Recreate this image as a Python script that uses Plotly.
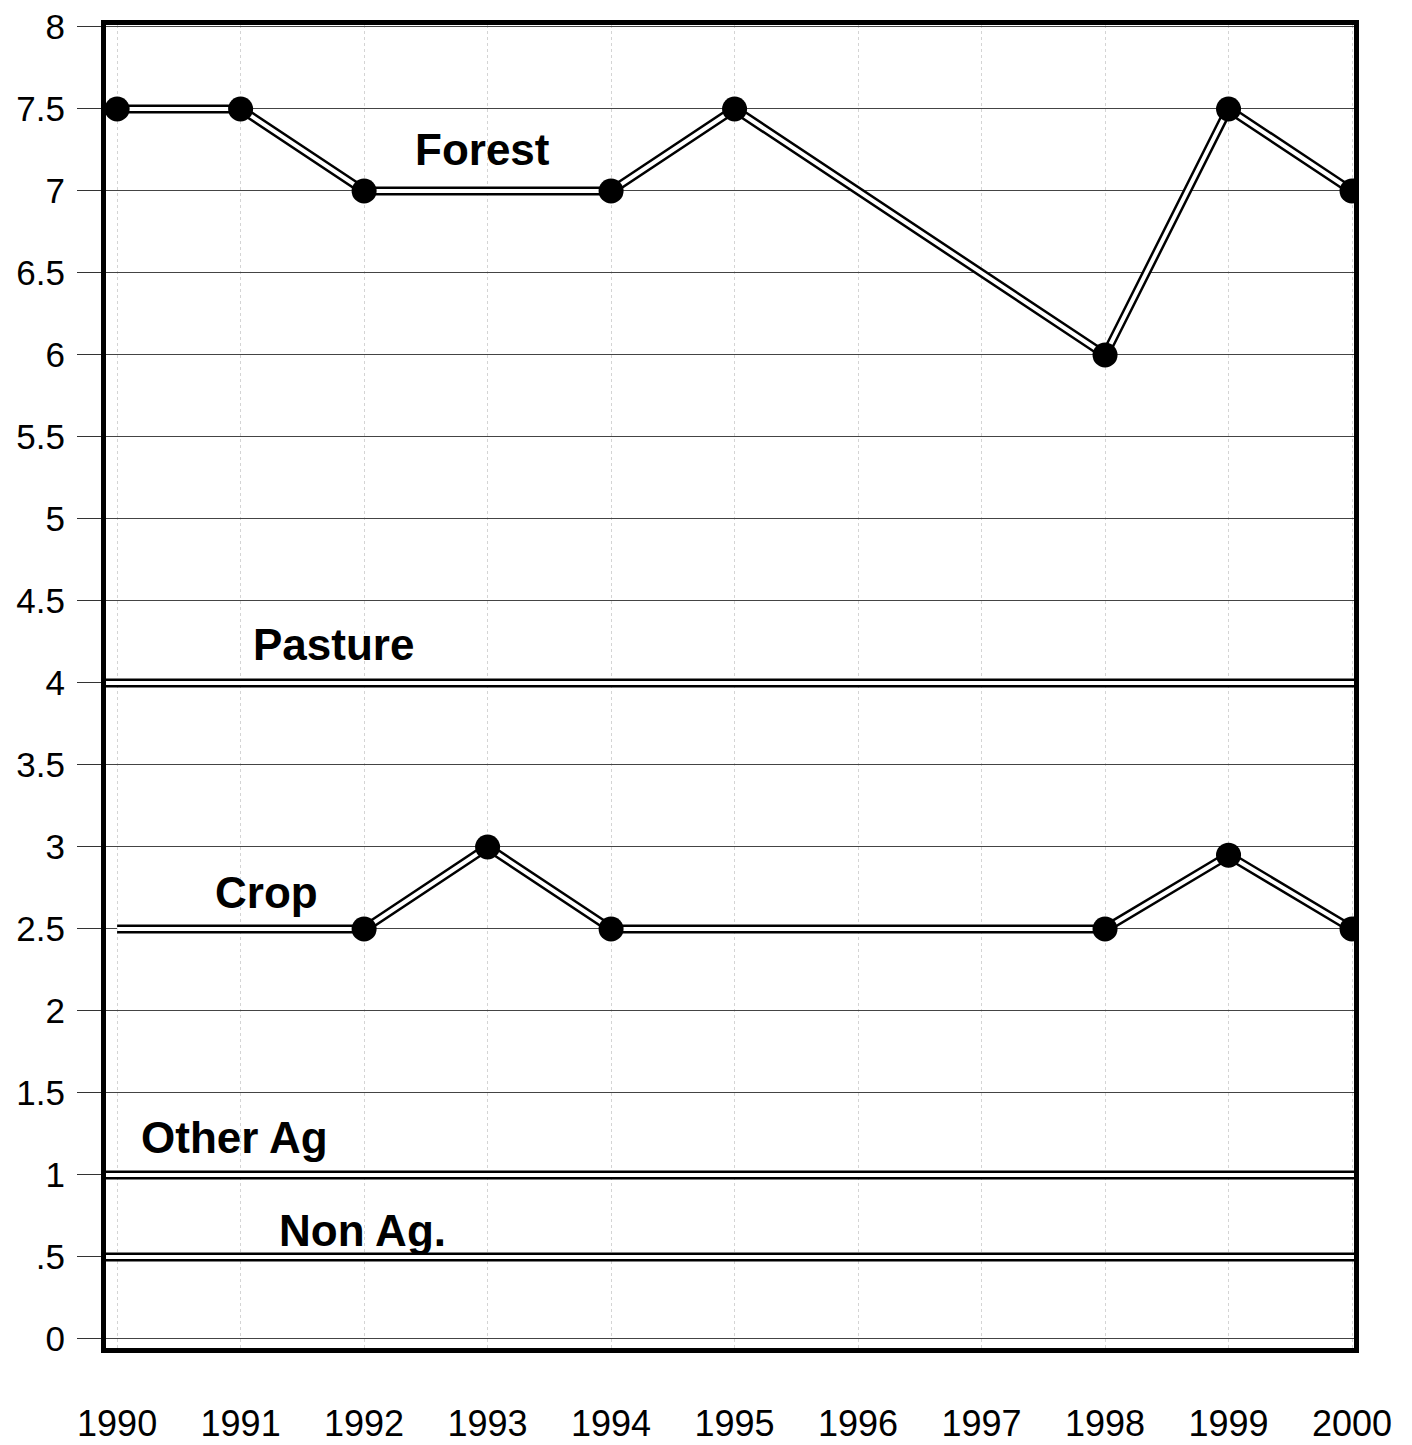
import plotly.graph_objects as go

# ---- data ----
years = [1990, 1991, 1992, 1993, 1994, 1995, 1996, 1997, 1998, 1999, 2000]
year_labels = [str(y) for y in years]

forest_x = [1990, 1991, 1992, 1994, 1995, 1998, 1999, 2000]
forest_y = [7.5, 7.5, 7.0, 7.0, 7.5, 6.0, 7.5, 7.0]

crop_x = [1990, 1992, 1993, 1994, 1998, 1999, 2000]
crop_y = [2.5, 2.5, 3.0, 2.5, 2.5, 2.95, 2.5]
crop_marker_x = [1992, 1993, 1994, 1998, 1999, 2000]
crop_marker_y = [2.5, 3.0, 2.5, 2.5, 2.95, 2.5]

pasture_val = 4.0
other_ag_val = 1.0
non_ag_val = 0.5

y_ticks = [0, 0.5, 1, 1.5, 2, 2.5, 3, 3.5, 4, 4.5, 5, 5.5, 6, 6.5, 7, 7.5, 8]
y_tick_text = ["0", ".5", "1", "1.5", "2", "2.5", "3", "3.5", "4", "4.5", "5",
               "5.5", "6", "6.5", "7", "7.5", "8"]

labels = [
    ("Forest", 1992.96, 7.25),
    ("Pasture", 1991.75, 4.235),
    ("Crop", 1991.21, 2.72),
    ("Other Ag", 1990.95, 1.23),
    ("Non Ag.", 1991.99, 0.66),
]

FONT = "Liberation Sans, Arial, sans-serif"

fig = go.Figure()

def double_line(x, y):
    fig.add_trace(go.Scatter(x=x, y=y, mode="lines",
                             line=dict(color="black", width=9),
                             hoverinfo="skip", showlegend=False))
    fig.add_trace(go.Scatter(x=x, y=y, mode="lines",
                             line=dict(color="white", width=4),
                             hoverinfo="skip", showlegend=False))

# flat series spanning the full plot width
for v in [pasture_val, other_ag_val, non_ag_val]:
    fig.add_hline(y=v, line=dict(color="black", width=9), layer="above")
    fig.add_hline(y=v, line=dict(color="white", width=4), layer="above")

double_line(forest_x, forest_y)
fig.add_trace(go.Scatter(x=forest_x, y=forest_y, mode="markers",
                         marker=dict(color="black", size=25),
                         showlegend=False))

double_line(crop_x, crop_y)
fig.add_trace(go.Scatter(x=crop_marker_x, y=crop_marker_y, mode="markers",
                         marker=dict(color="black", size=25),
                         showlegend=False))

for text, x, y in labels:
    fig.add_annotation(x=x, y=y, text="<b>%s</b>" % text, showarrow=False,
                       font=dict(family=FONT, size=44, color="black"),
                       xanchor="center", yanchor="middle")

fig.update_layout(
    width=1404, height=1437,
    margin=dict(l=98, r=58, t=17, b=97),
    paper_bgcolor="white", plot_bgcolor="white",
    showlegend=False,
    font=dict(family=FONT, color="black"),
)

fig.update_xaxes(
    range=[1989.91, 2000.016],
    tickmode="array", tickvals=years, ticktext=year_labels,
    tickfont=dict(family=FONT, size=36, color="black"),
    ticks="", ticklabelstandoff=40,
    showgrid=True, gridcolor="#d4d4d4", gridwidth=1, griddash="dot",
    showline=True, linecolor="black", linewidth=5, mirror=True,
    zeroline=False, automargin=False, ticklabeloverflow="allow",
)

fig.update_yaxes(
    range=[-0.055, 8.012],
    tickmode="array", tickvals=y_ticks, ticktext=y_tick_text,
    tickfont=dict(family=FONT, size=35, color="black"),
    ticks="outside", ticklen=24, tickcolor="#333333", tickwidth=1,
    ticklabelstandoff=5,
    showgrid=True, gridcolor="#444444", gridwidth=1,
    showline=True, linecolor="black", linewidth=5, mirror=True,
    zeroline=False, automargin=False, ticklabeloverflow="allow",
)

fig.write_html("out.html")
